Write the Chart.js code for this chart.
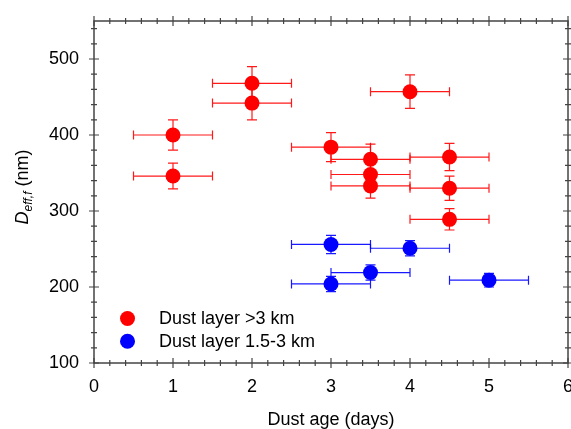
<!DOCTYPE html>
<html>
<head>
<meta charset="utf-8">
<script src="https://cdn.jsdelivr.net/npm/chart.js@4/dist/chart.umd.min.js"></script>
<style>
  html, body { margin: 0; padding: 0; background: #fff; }
  #wrap { width: 571px; height: 429px; }
</style>
</head>
<body>
<div id="wrap"><canvas id="c" width="571" height="429"></canvas></div>
<script>
// ---- data ----
const redLabel = 'Dust layer >3 km';
const redX    = [1,   1,   2,   2,   3,   3.5, 3.5, 3.5, 4,   4.5, 4.5, 4.5];
const redY    = [400, 346, 468, 442, 384, 368, 348, 333, 457, 371, 330, 289];
const redXErr = [0.5, 0.5, 0.5, 0.5, 0.5, 0.5, 0.5, 0.5, 0.5, 0.5, 0.5, 0.5];
const redYErr = [20,  17,  22,  22,  19,  20,  16,  16,  22,  18,  16,  14];

const blueLabel = 'Dust layer 1.5-3 km';
const blueX    = [3,   4,   3.5, 3,   5];
const blueY    = [256, 251, 219, 204, 209];
const blueXErr = [0.5, 0.5, 0.5, 0.5, 0.5];
const blueYErr = [12,  10,  10,  10,  9];

const xTicks = [0, 1, 2, 3, 4, 5, 6];
const yTicks = [100, 200, 300, 400, 500];
const xRange = [0, 6];
const yRange = [100, 550];
const xMinorStep = 0.2;
const yMinorStep = 20;

const xTitle = 'Dust age (days)';
const yTitleMain = 'D';
const yTitleSub = 'eff,f';
const yTitleUnit = ' (nm)';

// ---- build datasets ----
function pts(xs, ys, xe, ye) {
  return xs.map((x, i) => ({ x: x, y: ys[i], xerr: xe[i], yerr: ye[i] }));
}
const FONT = '"Liberation Sans", Arial, sans-serif';

const errorBars = {
  id: 'errorBars',
  beforeDatasetDraw(chart, args) {
    const ds = chart.data.datasets[args.index];
    const xs = chart.scales.x, ys = chart.scales.y;
    const ctx = chart.ctx;
    ctx.save();
    ctx.strokeStyle = ds.errorColor;
    ctx.lineWidth = 1.2;
    ds.data.forEach(p => {
      const px = xs.getPixelForValue(p.x), py = ys.getPixelForValue(p.y);
      const x0 = xs.getPixelForValue(p.x - p.xerr), x1 = xs.getPixelForValue(p.x + p.xerr);
      const y0 = ys.getPixelForValue(p.y - p.yerr), y1 = ys.getPixelForValue(p.y + p.yerr);
      ctx.beginPath();
      ctx.moveTo(x0, py); ctx.lineTo(x1, py);
      ctx.moveTo(x0, py - 4.5); ctx.lineTo(x0, py + 4.5);
      ctx.moveTo(x1, py - 4.5); ctx.lineTo(x1, py + 4.5);
      ctx.moveTo(px, y0); ctx.lineTo(px, y1);
      ctx.moveTo(px - 5, y0); ctx.lineTo(px + 5, y0);
      ctx.moveTo(px - 5, y1); ctx.lineTo(px + 5, y1);
      ctx.stroke();
    });
    ctx.restore();
  }
};

const frame = {
  id: 'frame',
  beforeDatasetsDraw(chart) {
    const { ctx, chartArea: a } = chart;
    const xs = chart.scales.x, ys = chart.scales.y;
    ctx.save();
    ctx.strokeStyle = '#444';
    ctx.lineWidth = 1.5;
    ctx.strokeRect(a.left, a.top, a.right - a.left, a.bottom - a.top);
    ctx.lineWidth = 1.2;
    ctx.beginPath();
    const nx = Math.round((xRange[1] - xRange[0]) / xMinorStep);
    for (let i = 0; i <= nx; i++) {
      const v = xRange[0] + i * xMinorStep;
      const major = xTicks.some(t => Math.abs(t - v) < 1e-6);
      const L = major ? 5 : 3;
      const px = xs.getPixelForValue(v);
      ctx.moveTo(px, a.bottom - L); ctx.lineTo(px, a.bottom + L);
      ctx.moveTo(px, a.top - L); ctx.lineTo(px, a.top + L);
    }
    const ny = Math.round((yRange[1] - yRange[0]) / yMinorStep);
    for (let i = 0; i <= ny; i++) {
      const v = yRange[0] + i * yMinorStep;
      if (v > yRange[1]) break;
      const major = yTicks.some(t => Math.abs(t - v) < 1e-6);
      const L = major ? 5 : 3;
      const py = ys.getPixelForValue(v);
      ctx.moveTo(a.left - L, py); ctx.lineTo(a.left + L, py);
      ctx.moveTo(a.right - L, py); ctx.lineTo(a.right + L, py);
    }
    ctx.stroke();
    ctx.restore();
  },
  afterDraw(chart) {
    const { ctx, chartArea: a } = chart;
    ctx.save();
    ctx.fillStyle = '#000';
    ctx.font = '18px ' + FONT;
    ctx.textAlign = 'center';
    ctx.textBaseline = 'alphabetic';
    ctx.fillText(xTitle, (a.left + a.right) / 2, 425);
    const fMain = 'italic 18px ' + FONT;
    const fSub = 'italic 12px ' + FONT;
    const fUnit = '18px ' + FONT;
    ctx.font = fMain; const w1 = ctx.measureText(yTitleMain).width;
    ctx.font = fSub; const w2 = ctx.measureText(yTitleSub).width;
    ctx.font = fUnit; const w3 = ctx.measureText(yTitleUnit).width;
    const total = w1 + w2 + w3;
    ctx.translate(28, 187);
    ctx.rotate(-Math.PI / 2);
    ctx.textAlign = 'left';
    let x = -total / 2;
    ctx.font = fMain; ctx.fillText(yTitleMain, x, 0); x += w1;
    ctx.font = fSub; ctx.fillText(yTitleSub, x, 4); x += w2;
    ctx.font = fUnit; ctx.fillText(yTitleUnit, x, 0);
    ctx.restore();

    ctx.save();
    ctx.font = '18px ' + FONT;
    ctx.textAlign = 'left';
    ctx.textBaseline = 'middle';
    chart.data.datasets.forEach((ds, i) => {
      const cy = 318.5 + i * 22.7;
      ctx.fillStyle = ds.backgroundColor;
      ctx.beginPath();
      ctx.arc(127.5, cy, 7.5, 0, Math.PI * 2);
      ctx.fill();
      ctx.fillStyle = '#000';
      ctx.fillText(ds.label, 159, cy + 1);
    });
    ctx.restore();
  }
};

new Chart(document.getElementById('c'), {
  type: 'scatter',
  data: {
    datasets: [
      { label: redLabel, data: pts(redX, redY, redXErr, redYErr),
        backgroundColor: '#ff0000', borderWidth: 0, pointRadius: 7.5, pointHoverRadius: 7.5,
        errorColor: 'rgba(255,0,0,0.9)' },
      { label: blueLabel, data: pts(blueX, blueY, blueXErr, blueYErr),
        backgroundColor: '#0000ff', borderWidth: 0, pointRadius: 7.5, pointHoverRadius: 7.5,
        errorColor: 'rgba(0,0,255,0.9)' }
    ]
  },
  options: {
    responsive: false,
    animation: false,
    devicePixelRatio: 1,
    layout: { autoPadding: false, padding: { top: 21, right: 3, left: 0, bottom: 0 } },
    plugins: { legend: { display: false }, tooltip: { enabled: false } },
    scales: {
      x: {
        type: 'linear', min: xRange[0], max: xRange[1],
        afterBuildTicks: s => { s.ticks = xTicks.map(v => ({ value: v })); },
        afterFit: s => { s.height = 66; s.paddingLeft = 0; s.paddingRight = 0; },
        ticks: { font: { family: FONT, size: 18 }, color: '#000', padding: 13, maxRotation: 0, autoSkip: false },
        grid: { display: false, drawTicks: false },
        border: { display: false }
      },
      y: {
        type: 'linear', min: yRange[0], max: yRange[1],
        afterBuildTicks: s => { s.ticks = yTicks.map(v => ({ value: v })); },
        afterFit: s => { s.width = 94; s.paddingTop = 0; s.paddingBottom = 0; },
        ticks: { font: { family: FONT, size: 18 }, color: '#000', padding: 15, autoSkip: false },
        grid: { display: false, drawTicks: false },
        border: { display: false }
      }
    }
  },
  plugins: [errorBars, frame]
});
</script>
</body>
</html>
